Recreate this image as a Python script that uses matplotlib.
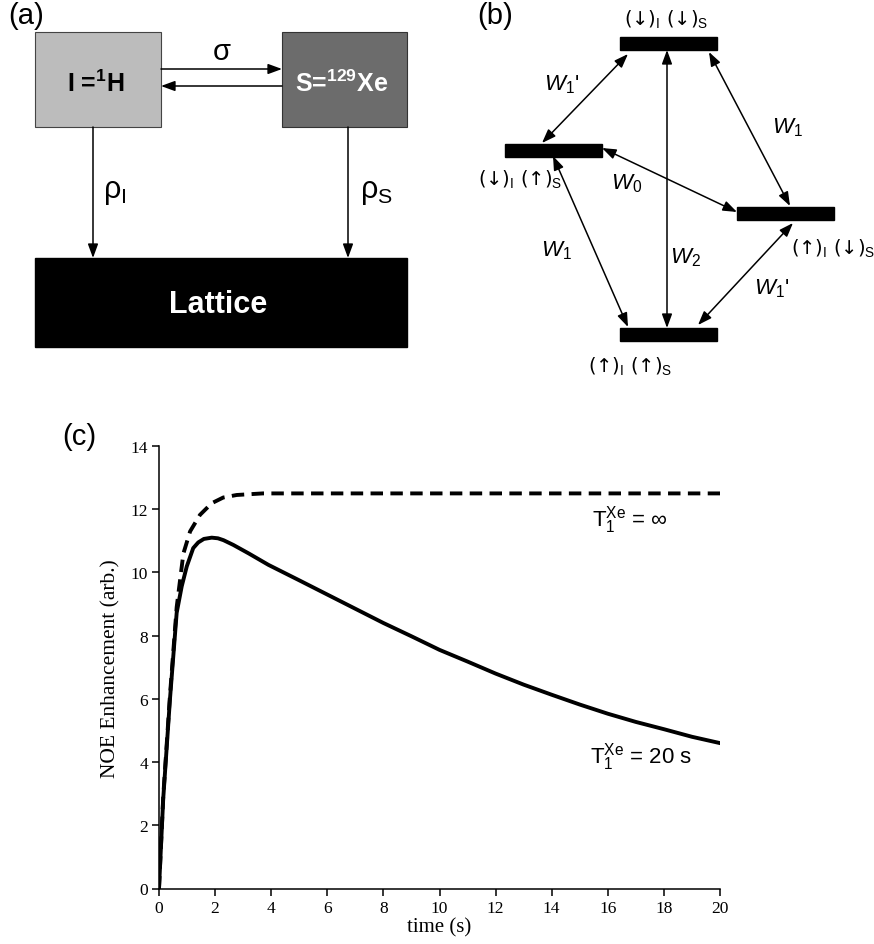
import matplotlib.pyplot as plt
from matplotlib.patches import Rectangle

plt.rcParams['font.family'] = ['Liberation Sans', 'DejaVu Sans']
plt.rcParams['mathtext.fontset'] = 'custom'
plt.rcParams['mathtext.rm'] = 'Liberation Sans'
plt.rcParams['mathtext.it'] = 'Liberation Sans:italic'
plt.rcParams['mathtext.bf'] = 'Liberation Sans:bold'

# NOE build-up, T1(Xe) = infinity
t_inf = [0, 0.15, 0.39, 0.63, 0.87, 1.11, 1.46, 1.88, 2.29, 2.77, 3.7, 5, 20]
noe_inf = [0, 2.9, 6.1, 8.9, 10.6, 11.3, 11.82, 12.19, 12.37, 12.45, 12.5, 12.5, 12.5]

# NOE build-up and decay, T1(Xe) = 20 s
t_20 = [0, 0.15, 0.39, 0.63, 0.81, 0.99, 1.22, 1.4, 1.6, 1.88, 2.1, 2.3, 2.65, 3.2, 3.9,
        5, 6, 7, 8, 9, 10, 11, 12, 13, 14, 15, 16, 17, 18, 19, 20]
noe_20 = [0, 2.83, 5.98, 8.72, 9.56, 10.19, 10.77, 10.95, 11.06, 11.1, 11.08, 11.02, 10.87, 10.6, 10.24,
          9.75, 9.3, 8.85, 8.4, 7.98, 7.55, 7.18, 6.8, 6.45, 6.13, 5.82, 5.53, 5.27, 5.04, 4.8, 4.6]

x_ticks = [0, 2, 4, 6, 8, 10, 12, 14, 16, 18, 20]
y_ticks = [0, 2, 4, 6, 8, 10, 12, 14]

W, H = 874, 945


def arrow(ax, p0, p1, both=False, lw=1.1):
    style = '<|-|>' if both else '-|>'
    style += ',head_length=0.6,head_width=0.22'
    ax.annotate('', xy=p1, xytext=p0,
                arrowprops=dict(arrowstyle=style, lw=lw, color='black',
                                mutation_scale=14, shrinkA=0, shrinkB=0))


def panel_a(ax):
    ax.text(26, 16, '(a)', fontsize=21, ha='center', va='center')
    ax.add_patch(Rectangle((35, 33), 126, 95, facecolor='#bcbcbc', edgecolor='#444444', lw=0.8))
    ax.add_patch(Rectangle((282, 33), 125, 95, facecolor='#6c6c6c', edgecolor='#333333', lw=0.8))
    ax.add_patch(Rectangle((35, 259), 372, 89, facecolor='black', edgecolor='black'))
    ax.text(96, 84, 'I =$^{\\mathbf{1}}$H', fontsize=18, fontweight='bold', ha='center', va='center')
    ax.text(342, 84, 'S=$^{\\mathbf{129}}$Xe', fontsize=18, fontweight='bold', color='white',
            ha='center', va='center')
    ax.text(218, 305, 'Lattice', fontsize=22, fontweight='bold', color='white', ha='center', va='center')
    ax.text(222, 52, 'σ', fontsize=21, ha='center', va='center')
    arrow(ax, (161, 70), (282, 70))
    arrow(ax, (282, 87), (161, 87))
    arrow(ax, (93, 128), (93, 259))
    arrow(ax, (348, 128), (348, 259))
    ax.text(103, 192, 'ρ$_{\\mathrm{I}}$', fontsize=22, ha='left', va='center')
    ax.text(360, 192, 'ρ$_{\\mathrm{S}}$', fontsize=22, ha='left', va='center')


def panel_b(ax):
    ax.text(495, 16, '(b)', fontsize=21, ha='center', va='center')
    # energy levels
    levels = {'dd': (620, 44), 'du': (505, 151), 'ud': (737, 214), 'uu': (620, 335)}
    for x0, yc in levels.values():
        ax.add_patch(Rectangle((x0, yc - 6.5), 97, 13, facecolor='black', edgecolor='black'))
    fs = 14
    fam = ['DejaVu Sans']
    ax.text(666, 19, '(↓)$_{\\mathrm{I}}$ (↓)$_{\\mathrm{S}}$', fontsize=fs, family=fam, ha='center', va='center')
    ax.text(520, 179, '(↓)$_{\\mathrm{I}}$ (↑)$_{\\mathrm{S}}$', fontsize=fs, family=fam, ha='center', va='center')
    ax.text(833, 248, '(↑)$_{\\mathrm{I}}$ (↓)$_{\\mathrm{S}}$', fontsize=fs, family=fam, ha='center', va='center')
    ax.text(630, 366, '(↑)$_{\\mathrm{I}}$ (↑)$_{\\mathrm{S}}$', fontsize=fs, family=fam, ha='center', va='center')
    # transitions
    arrow(ax, (628, 55), (542, 144), both=True)
    arrow(ax, (667, 51), (667, 329), both=True)
    arrow(ax, (709, 53), (790, 207), both=True)
    arrow(ax, (602, 149), (737, 213), both=True)
    arrow(ax, (553, 157), (628, 328), both=True)
    arrow(ax, (793, 224), (698, 326), both=True)
    fw = 16
    ax.text(562, 85, "$W_{\\mathrm{1}}$'", fontsize=fw, ha='center', va='center')
    ax.text(787, 128, '$W_{\\mathrm{1}}$', fontsize=fw, ha='center', va='center')
    ax.text(627, 184, '$W_{\\mathrm{0}}$', fontsize=fw, ha='center', va='center')
    ax.text(556, 251, '$W_{\\mathrm{1}}$', fontsize=fw, ha='center', va='center')
    ax.text(685, 258, '$W_{\\mathrm{2}}$', fontsize=fw, ha='center', va='center')
    ax.text(772, 289, "$W_{\\mathrm{1}}$'", fontsize=fw, ha='center', va='center')


def panel_c(fig):
    ax = fig.add_axes([159 / W, (H - 889.5) / H, 561 / W, 442.5 / H])
    ax.plot(t_inf, noe_inf, color='black', lw=2.8, dashes=(3.2, 1.9))
    ax.plot(t_20, noe_20, color='black', lw=2.8, solid_joinstyle='round')
    ax.set_xlim(0, 20)
    ax.set_ylim(0, 14)
    ax.set_xticks(x_ticks)
    ax.set_yticks(y_ticks)
    for s in ['top', 'right']:
        ax.spines[s].set_visible(False)
    for s in ['left', 'bottom']:
        ax.spines[s].set_linewidth(1.1)
    ax.tick_params(direction='out', length=5, width=1.1, labelsize=12.5, pad=3)
    for lab in ax.get_xticklabels() + ax.get_yticklabels():
        lab.set_family('Liberation Serif')
    ax.set_xlabel('time (s)', family='Liberation Serif', fontsize=15, labelpad=1)
    ax.set_ylabel('NOE Enhancement (arb.)', family='Liberation Serif', fontsize=15.5, labelpad=7)
    ax.text(15.45, 11.5, '$\\mathrm{T}_{\\mathrm{1}}^{\\mathrm{Xe}}$ = ∞', fontsize=16, ha='left', va='baseline')
    ax.text(15.35, 4.0, '$\\mathrm{T}_{\\mathrm{1}}^{\\mathrm{Xe}}$ = 20 s', fontsize=16, ha='left', va='baseline')
    return ax


def main():
    fig = plt.figure(figsize=(W / 100, H / 100), dpi=100)
    ax = fig.add_axes([0, 0, 1, 1])
    ax.set_xlim(0, W)
    ax.set_ylim(H, 0)
    ax.axis('off')
    panel_a(ax)
    panel_b(ax)
    panel_c(fig)
    fig.text(79 / W, 1 - 437 / H, '(c)', fontsize=21, ha='center', va='center')
    fig.savefig('out.png', dpi=100)


if __name__ == '__main__':
    main()
